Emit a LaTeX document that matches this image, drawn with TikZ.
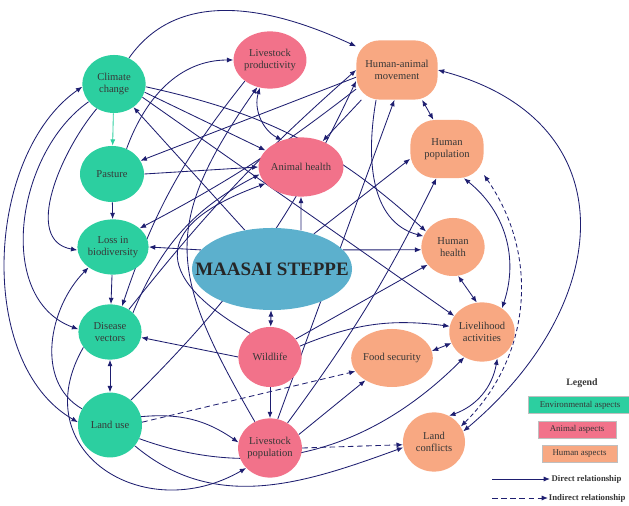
\documentclass[tikz,border=0pt]{standalone}
\usepackage{fontspec}
\setmainfont{Liberation Serif}
\usetikzlibrary{shapes.geometric,arrows.meta,backgrounds,positioning}
\definecolor{envcol}{RGB}{44,207,160}
\definecolor{animalcol}{RGB}{242,114,138}
\definecolor{humancol}{RGB}{248,168,130}
\definecolor{steppecol}{RGB}{92,176,205}
\definecolor{linecol}{RGB}{30,30,112}
\definecolor{txtcol}{RGB}{55,55,55}
\tikzstyle{aspect} = [ellipse, inner sep=0pt, align=center, text=txtcol, minimum width=1.58cm, minimum height=1.46cm]
\tikzstyle{env} = [aspect, fill=envcol]
\tikzstyle{anim} = [aspect, fill=animalcol]
\tikzstyle{hum} = [aspect, fill=humancol]
\tikzstyle{humbox} = [rectangle, rounded corners=0.58cm, inner sep=0pt, align=center, text=txtcol, fill=humancol]
\tikzstyle{legbox} = [rectangle, draw=black!25, inner sep=0pt, text=txtcol, minimum height=0.42cm, font=\fontsize{6.3}{7}\selectfont]
\tikzstyle{rel} = [->, draw=linecol, line width=0.6pt]
\tikzstyle{rel2} = [<->, draw=linecol, line width=0.6pt]
\tikzstyle{irel} = [rel, dash pattern=on 4pt off 2.5pt]
\tikzstyle{irel2} = [rel2, dash pattern=on 3pt off 2pt]

\begin{document}
\begin{tikzpicture}[x=0.025cm, y=0.025cm, >={Latex[length=4.5pt,width=3.6pt]}, font=\fontsize{7.5}{8.5}\selectfont]
\useasboundingbox (0,0) rectangle (629,505);
\clip (0,0) rectangle (629,505);

\node [env, minimum height=1.45cm] (cc) at (114,421) {Climate\\change};
\node [env, minimum width=1.6cm, minimum height=1.4cm] (pasture) at (112,331) {Pasture};
\node [env, minimum height=1.38cm] (loss) at (113,258) {Loss in\\biodiversity};
\node [env, minimum height=1.38cm] (dv) at (110,173) {Disease\\vectors};
\node [env, minimum width=1.6cm, minimum height=1.62cm] (lu) at (110,80) {Land use};

\node [anim, minimum height=1.43cm] (livprod) at (270,445) {Livestock\\productivity};
\node [anim, minimum width=1.6cm, minimum height=1.48cm] (animal) at (301,338) {Animal health};
\node [anim, minimum height=1.5cm] (wildlife) at (270,148) {Wildlife};
\node [anim, minimum height=1.48cm] (livpop) at (270,57) {Livestock\\population};

\node [ellipse, fill=steppecol, minimum width=4cm, minimum height=2.05cm, inner sep=0pt] (steppe) at (272,236) {};
\node [text=black!85, font=\fontsize{13.5}{15}\selectfont\bfseries] (steppetext) at (steppe.center) {MAASAI STEPPE};

\node [humbox, minimum width=2.03cm, minimum height=1.48cm] (ham) at (397,435) {Human-animal\\movement};
\node [humbox, minimum width=1.83cm, minimum height=1.45cm, rounded corners=0.62cm] (humpop) at (447,356) {Human\\population};
\node [hum, minimum height=1.45cm] (humhealth) at (453,258) {Human\\health};
\node [hum, minimum height=1.48cm] (livelihood) at (482,173) {Livelihood\\activities};
\node [hum, minimum width=1.55cm, minimum height=1.45cm] (food) at (392,147) {Food security};
\node [hum, minimum width=1.55cm, minimum height=1.48cm] (conflicts) at (434,63) {Land\\conflicts};

\begin{scope}[on background layer]
% environmental column
\draw [rel, draw=envcol] (cc) -- (pasture);
\draw [rel] (pasture) -- (loss);
\draw [rel] (loss) -- (dv);
\draw [rel2] (dv) -- (lu);
\draw [rel2] (cc.185) to [out=215, in=150, looseness=0.9] (lu.175);
\draw [rel] (cc.215) to [out=215, in=160] (dv.175);
\draw [rel] (cc.235) to [out=230, in=170] (loss.185);
\draw [rel] (lu.150) to [out=150, in=225] (loss.220);
\draw [rel] (dv.210) to [out=240, in=210, looseness=1.5] (livpop.220);

% land use
\draw [rel] (lu.-40) to [out=-40, in=200] (conflicts.190);
\draw [rel] (lu.-25) to [out=-20, in=225] (livelihood.235);
\draw [rel] (lu.15) to [bend left=20] (livpop.170);
\draw [irel] (lu.5) -- (food.200);
\draw [rel] (lu.50) to [bend right=10] (ham.195);

% steppe
\draw [rel2] (steppe) -- (wildlife);
\draw [rel] (steppe.53) -- (animal.south);
\draw [rel] (steppe.165) -- (loss.east);
\draw [rel] (steppe.15) -- (humhealth.185);
\draw [rel] (steppe.125) -- (cc.-50);
\draw [rel] (steppe.40) -- (humpop.195);

% climate change and pasture
\draw [rel] (cc.60) to [out=55, in=155] (ham.150);
\draw [rel] (cc.-5) to [bend left=15] (humhealth.150);
\draw [rel] (cc.-25) -- (livelihood.150);
\draw [rel] (cc.-15) -- (animal.155);
\draw [rel] (pasture.east) -- (animal.west);
\draw [rel] (pasture.60) to [out=70, in=180] (livprod.west);

% human-animal movement
\draw [rel2] (ham.-50) -- (humpop.115);
\draw [rel] (ham.220) -- (animal.50);
\draw [rel] (ham.190) -- (pasture.25);
\draw [rel] (ham.205) to [bend left=5] (loss.35);
\draw [rel] (dv.50) to [bend left=5] (ham.180);
\draw [rel] (ham.235) to [out=260, in=165] (humhealth.160);
\draw [rel2] (ham.east) to [out=-15, in=40, looseness=1.4] (conflicts.20);

% animals
\draw [rel2] (livprod.250) to [bend right=40] (animal.125);
\draw [rel] (wildlife.130) to [out=150, in=200, looseness=2] (animal.205);
\draw [rel] (dv.40) to [bend left=20] (animal.190);
\draw [rel] (livprod.220) to [bend right=10] (dv.65);
\draw [rel] (wildlife.west) -- (dv.-10);
\draw [rel] (wildlife) -- (livpop);
\draw [rel] (wildlife.20) to [bend left=15] (livelihood.170);
\draw [rel] (wildlife.35) -- (humhealth.215);
\draw [rel] (livpop.120) to [out=120, in=235, looseness=1.3] (livprod.245);
\draw [rel] (livpop.75) -- (ham.265);
\draw [rel] (livpop.55) to [bend right=5] (humpop.250);
\draw [rel] (livpop.25) -- (food.220);
\draw [irel] (livpop.east) -- (conflicts.185);

% human side
\draw [rel2] (humhealth.-80) -- (livelihood.100);
\draw [rel2] (food.10) -- (livelihood.200);
\draw [rel2] (livelihood.-60) to [bend left=30] (conflicts.60);
\draw [rel2] (humpop.-60) to [bend left=35] (livelihood.50);
\draw [irel2] (humpop.-35) to [bend left=40] (conflicts.30);
\end{scope}

% legend
\node [text=txtcol, font=\fontsize{7}{8}\selectfont\bfseries] (legend) at (582,122) {Legend};
\node [legbox, fill=envcol, minimum width=2.6cm] (envkey) at (580,100) {Environmental aspects};
\node [legbox, fill=animalcol, minimum width=1.95cm] (animalkey) at (577,75.5) {Animal aspects};
\node [legbox, fill=humancol, minimum width=1.88cm] (humankey) at (579.5,51.5) {Human aspects};
\coordinate (d0) at (492,26);
\coordinate (d1) at (550,26);
\draw [rel] (d0) -- (d1);
\node [anchor=west, inner sep=1pt, text=txtcol, font=\fontsize{6.2}{7}\selectfont\bfseries] (dtext) at (d1) {Direct relationship};
\coordinate (i0) at (492,7);
\coordinate (i1) at (548,7);
\draw [irel] (i0) -- (i1);
\node [anchor=west, inner sep=0.5pt, text=txtcol, font=\fontsize{6.2}{7}\selectfont\bfseries] (itext) at (i1) {Indirect relationship};

\end{tikzpicture}
\end{document}
